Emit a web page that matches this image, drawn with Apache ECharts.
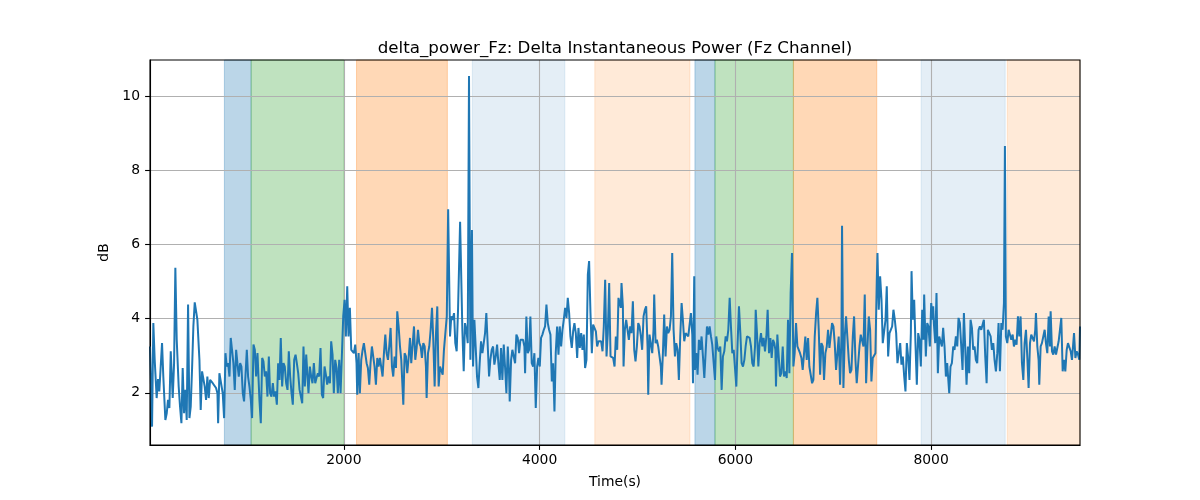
<!DOCTYPE html>
<html>
<head>
<meta charset="utf-8">
<script src="https://cdn.jsdelivr.net/npm/echarts@6/dist/echarts.min.js"></script>
<style>
html,body{margin:0;padding:0;background:#fff;}
#chart{width:1200px;height:500px;}
</style>
</head>
<body>
<div id="chart"></div>
<script>
// ---- data ----
const timeS = [
20,41,54,68,88,102,115,129,143,156,177,191,204,218,232,252,266,279,293,313,327,341,354,368,382,395,409,423,436,450,463,477,491,504,525,538,552,566,579,593,606,620,634,647,661,675,695,709,716,729,743,763,777,791,804,818,832,845,859,872,886,900,913,927,941,954,968,981,995,1009,1022,1036,1050,1063,1077,1091,1104,1118,1138,1152,1166,1179,1193,1206,1220,1234,1247,1261,1275,1288,1302,1316,1329,1343,1356,1370,1384,1397,1411,1425,1438,1452,1466,1479,1493,1507,1520,1534,1548,1561,1575,1588,1602,1616,
1626,1639,1653,1667,1680,1694,1708,1721,1735,1748,1762,1776,1789,1803,1817,1830,1844,1858,1871,1885,1898,1912,1926,1939,1953,1967,1980,1994,2008,2021,2035,2048,2062,2076,2089,2103,2117,2130,2137,2151,2164,2178,2192,2205,2219,2233,2246,2260,2273,2287,2301,2314,2328,2342,2355,2369,2383,2396,2410,2424,2437,2451,2464,2478,2492,2505,2519,2533,2546,2560,2574,2587,2601,2608,2621,2635,2648,2662,2676,2689,2703,2717,2730,2744,2758,2771,2785,2798,2812,2826,2839,2846,2860,2873,2887,2901,2914,2928,2942,2955,2969,2983,2996,3010,3023,3037,3052,3066,3085,3098,3112,3126,3139,3153,3167,
3188,3211,3225,3238,3252,3266,3279,3293,3309,3320,3334,3347,3361,3375,3388,3402,3416,3429,3443,3456,3470,3484,3497,3511,3525,3538,3552,3566,3579,3593,3606,3620,3634,3647,3661,3675,3688,3695,3709,3722,3736,3750,3763,3777,3791,3804,3818,3831,3845,3852,3865,3879,3893,3906,3920,3934,3947,3961,3975,3988,4002,4015,4029,4043,4056,4070,4084,4097,4111,4125,4138,4152,4165,4179,4193,4206,4220,4234,4247,4261,4275,4288,4302,4315,4329,4343,4356,4370,4384,4397,4411,4425,4438,4452,4465,4479,4493,4506,4520,4534,4547,4561,4575,4588,4602,4616,4629,4643,4656,4670,4684,4697,4711,4725,4738,4752,4766,4779,4793,4806,
4817,4830,4837,4851,4858,4871,4885,4898,4912,4926,4939,4953,4967,4980,4994,5008,5021,5035,5048,5062,5076,5089,5103,5110,5123,5137,5151,5164,5171,5185,5198,5212,5226,5239,5246,5260,5273,5287,5301,5314,5328,5342,5355,5369,5383,5396,5410,5423,5437,5451,5464,5478,5492,5505,5519,5533,5546,5560,5567,5580,5587,5601,5614,5628,5642,5655,5669,5683,5696,5710,5724,5737,5751,5764,5778,5792,5805,5819,5833,5846,5860,5873,5887,5901,5914,5928,5942,5955,5969,5983,5996,6010,6023,6037,6051,6064,6078,6092,6105,6119,6133,6146,6160,6173,6187,6201,6208,6221,6235,6248,6262,6276,6289,6303,6317,6330,6344,6358,6371,6385,6398,
6409,6415,6429,6443,6456,6470,6484,6497,6511,6525,6538,6552,6565,6579,6593,6606,6620,6634,6647,6661,6675,6688,6702,6715,6729,6743,6756,6770,6784,6797,6811,6825,6838,6852,6866,6879,6893,6906,6920,6934,6947,6961,6975,6988,7002,7015,7029,7043,7056,7070,7084,7090,7104,7118,7131,7145,7159,7172,7186,7200,7213,7227,7240,7254,7268,7281,7295,7309,7322,7336,7350,7363,7377,7390,7404,7418,7431,7445,7452,7465,7479,7493,7506,7520,7534,7547,7561,7575,7588,7602,7615,7629,7643,7656,7670,7684,7697,7711,7725,7738,7752,7765,7779,7793,7800,7813,7827,7840,7854,7868,7881,7895,7909,7922,7929,
7946,7960,7973,7987,8001,8014,8021,8028,8042,8055,8069,8083,8096,8110,8123,8137,8151,8164,8178,8185,8198,8212,8226,8239,8253,8267,8280,8294,8308,8321,8335,8348,8362,8376,8389,8403,8417,8430,8444,8457,8471,8485,8498,8512,8526,8539,8553,8567,8580,8594,8608,8621,8635,8648,8662,8676,8689,8703,8717,8730,8744,8754,8764,8778,8792,8805,8819,8833,8846,8860,8873,8887,8901,8914,8928,8942,8955,8969,8983,8996,9010,9023,9037,9051,9064,9071,9085,9098,9105,9119,9132,9146,9160,9173,9187,9201,9214,9221,9235,9248,9262,9276,9289,9303,9317,9330,9344,9357,9371,9385,9398,9412,9426,9439,9453,9460,9474,9487,9501,9514,9521
];
const deltaDb = [
3.25,1.09,3.88,2.89,1.86,2.37,2.04,2.08,3.34,2.44,1.27,1.45,1.81,1.59,3.12,1.86,2.80,5.37,3.43,2.17,1.63,1.18,2.67,1.45,2.08,1.27,4.38,1.32,1.63,2.67,3.79,4.44,4.49,3.97,2.89,1.54,2.58,2.58,2.17,1.81,2.44,1.86,2.35,2.35,2.26,2.26,2.13,1.99,1.18,2.53,2.51,1.99,1.32,3.07,2.71,2.80,2.44,3.48,3.43,2.80,2.08,3.16,2.80,2.44,2.80,2.71,1.99,1.77,2.44,3.16,2.44,2.17,1.81,1.32,3.30,3.16,2.44,3.07,1.81,1.18,2.94,2.85,2.44,2.58,1.90,2.98,1.99,1.90,2.26,1.90,2.04,1.68,2.80,2.35,3.48,2.17,2.80,2.71,2.26,2.08,3.12,2.44,1.99,1.68,2.89,3.03,2.80,2.53,2.08,2.04,1.72,3.25,2.17,3.03,
2.98,1.99,2.71,2.44,2.26,2.80,2.26,2.40,2.53,2.44,3.21,1.95,1.86,2.71,2.49,2.22,2.44,2.26,3.39,3.03,1.99,2.89,2.67,1.99,2.89,1.99,1.99,4.06,4.51,3.52,4.87,3.52,4.29,3.16,3.12,3.07,3.30,2.80,1.95,3.07,1.99,2.89,3.16,3.34,3.39,2.80,2.67,2.22,2.80,3.25,3.30,2.71,2.22,2.94,2.71,2.94,2.89,2.44,3.07,3.57,3.07,2.89,3.25,3.75,2.71,2.44,2.98,2.67,4.20,3.79,3.25,2.89,2.08,1.68,3.07,2.98,2.53,2.94,3.48,2.80,2.76,3.79,2.89,3.21,3.70,3.34,3.25,2.94,3.34,3.25,2.71,1.86,3.07,3.25,3.70,4.29,3.43,2.17,3.61,4.33,2.17,2.71,2.76,2.49,3.16,3.21,4.06,6.95,3.52,4.06,3.97,4.15,3.34,3.12,4.24,
6.61,3.70,2.58,3.88,3.70,3.34,10.54,2.89,6.39,2.71,3.97,3.25,2.44,2.13,2.80,3.39,3.07,3.07,3.61,4.15,4.20,2.44,2.89,3.16,3.25,2.76,2.98,3.30,2.80,2.35,3.21,2.35,3.30,2.71,1.99,3.25,2.53,1.77,2.89,3.16,3.12,2.80,3.57,3.48,3.07,3.43,3.43,3.43,3.25,2.53,4.06,3.07,3.16,4.06,2.80,2.71,3.07,1.59,2.71,2.94,2.71,3.48,3.57,3.70,3.79,4.38,3.88,3.70,3.57,2.31,2.80,1.50,3.07,3.79,3.03,3.79,3.25,3.70,3.97,4.29,4.02,4.56,4.15,3.52,3.21,3.66,3.88,3.61,2.94,3.75,3.21,3.61,3.16,3.57,2.67,2.89,5.19,5.55,4.15,3.07,3.84,3.79,3.66,3.25,3.39,3.34,3.39,3.12,3.79,5.05,2.98,3.61,4.96,2.98,2.98,2.94,2.71,3.52,3.16,4.56,
4.56,4.29,4.96,4.33,2.71,3.70,3.97,4.02,3.43,3.79,3.61,4.47,3.16,2.85,3.25,3.88,3.79,3.52,3.16,4.06,4.24,4.33,3.25,1.95,3.57,3.52,3.07,3.70,4.65,3.34,3.43,3.25,3.25,2.71,2.22,3.07,4.11,2.98,3.79,3.61,3.70,4.06,5.77,3.70,2.98,3.34,3.16,2.35,3.52,4.42,3.97,3.39,3.61,3.57,3.52,3.52,4.15,3.57,2.26,5.14,2.62,3.07,2.49,3.43,3.16,3.52,2.98,2.40,3.07,3.79,3.57,3.79,3.52,3.30,3.25,2.35,3.52,3.21,3.12,3.25,2.08,2.98,3.12,3.52,3.39,3.70,4.56,3.79,3.07,3.16,3.16,2.17,3.34,4.33,3.61,2.80,2.71,2.89,3.25,3.52,3.57,3.48,3.25,2.80,2.71,3.25,4.24,3.61,2.71,3.34,3.61,3.25,3.48,3.12,3.52,4.24,3.07,3.48,2.94,3.43,3.34,
3.16,2.17,3.57,3.52,2.44,2.53,3.25,2.44,2.58,2.40,3.97,2.53,4.69,5.77,2.71,3.07,3.88,3.25,3.21,3.07,2.94,2.62,3.07,3.52,2.89,3.48,2.71,2.67,2.26,2.35,3.52,4.15,4.56,3.70,2.49,3.34,3.25,2.35,3.07,3.25,3.70,3.21,3.16,3.88,3.79,3.34,2.62,2.58,3.52,2.22,3.52,6.50,2.13,3.52,4.06,4.11,2.89,2.53,2.62,3.52,4.06,2.89,2.26,2.22,3.25,3.57,3.52,3.25,4.65,2.26,3.25,4.06,3.70,2.31,2.94,2.89,3.07,5.05,5.77,4.24,5.14,4.51,3.34,3.30,3.97,4.87,2.98,3.61,3.70,3.79,4.24,3.97,3.61,2.80,2.80,3.34,2.76,2.98,2.44,2.04,3.34,2.98,2.35,3.61,5.28,3.97,4.51,3.34,2.22,3.61,3.43,2.71,4.24,3.43,4.65,
2.98,3.88,3.79,3.25,4.42,3.97,4.33,3.88,3.34,4.69,2.53,3.52,3.48,3.25,3.75,3.25,2.44,2.80,2.76,1.99,2.71,2.80,3.25,3.16,3.52,3.25,4.02,3.88,3.25,2.62,4.15,3.25,2.22,3.25,2.53,3.97,3.75,3.16,3.25,2.89,2.80,3.70,3.79,3.70,3.70,3.97,2.98,2.26,3.70,3.61,3.52,3.16,3.34,2.89,2.58,3.07,3.88,2.58,3.88,3.70,4.42,8.65,3.52,3.34,3.70,3.66,3.43,3.57,3.25,3.43,3.30,4.06,3.52,4.06,2.80,2.35,3.34,3.70,2.94,2.13,3.34,3.57,3.52,3.39,3.70,4.15,3.25,2.89,2.22,3.25,3.34,3.52,3.70,3.34,3.07,4.06,3.25,4.20,3.12,3.03,3.25,3.03,3.21,3.39,3.43,4.02,2.58,2.89,2.58,3.16,3.34,3.30,3.12,2.89,2.89,3.61,2.94,3.12,3.03,2.89,3.79
];
// shaded intervals (time, s)
const spanStart = [780, 1053, 2130, 3313, 4564, 5587, 5792, 6593, 7898, 8778];
const spanEnd   = [1053, 2000, 3058, 4258, 5536, 5792, 6593, 7445, 8757, 9521];
const spanKind  = ['A', 'B', 'C', 'D', 'E', 'A', 'B', 'C', 'D', 'E'];
const xTicks = [2000, 4000, 6000, 8000];
const yTicks = [2, 4, 6, 8, 10];

// ---- styles ----
const kindColor = {
  A: 'rgba(31,119,180,0.3)',
  B: 'rgba(44,160,44,0.3)',
  C: 'rgba(255,127,14,0.3)',
  D: 'rgba(31,119,180,0.12)',
  E: 'rgba(255,127,14,0.16)'
};
const FONT = 'DejaVu Sans';

const lineData = timeS.map((t, i) => [t, deltaDb[i]]);
const areas = spanStart.map((s, i) => [
  {xAxis: s, itemStyle: {color: kindColor[spanKind[i]], borderColor: kindColor[spanKind[i]], borderWidth: 1}},
  {xAxis: spanEnd[i]}
]);

const chart = echarts.init(document.getElementById('chart'), null, {renderer: 'canvas'});
chart.setOption({
  animation: false,
  backgroundColor: '#ffffff',
  title: {
    text: 'delta_power_Fz: Delta Instantaneous Power (Fz Channel)',
    left: 610, top: 35, textAlign: 'center',
    textStyle: {fontFamily: FONT, fontSize: 16.7, fontWeight: 'normal', color: '#000'}
  },
  grid: {left: 150, right: 120, top: 60, bottom: 55, show: true, borderColor: '#000', borderWidth: 1.1, backgroundColor: 'transparent', z: 3},
  xAxis: {
    type: 'value', min: 20, max: 9521, z: 1.5,
    name: 'Time(s)', nameLocation: 'middle', nameGap: 30,
    nameTextStyle: {fontFamily: FONT, fontSize: 13.9, color: '#000'},
    axisLine: {show: true, onZero: false, lineStyle: {color: '#000', width: 1.1}},
    axisTick: {show: true, length: 4.9, lineStyle: {color: '#000', width: 1.1}, customValues: xTicks},
    axisLabel: {fontFamily: FONT, fontSize: 13.9, color: '#000', margin: 8, customValues: xTicks, formatter: v => String(v)},
    splitLine: {show: true, lineStyle: {color: '#b0b0b0', width: 1.1}}
  },
  yAxis: {
    type: 'value', min: 0.595, max: 10.97, z: 1.5,
    name: 'dB', nameLocation: 'middle', nameGap: 39, nameRotate: 90, nameMoveOverlap: false,
    nameTextStyle: {fontFamily: FONT, fontSize: 13.9, color: '#000'},
    axisLine: {show: true, lineStyle: {color: '#000', width: 1.1}},
    axisTick: {show: true, length: 4.9, lineStyle: {color: '#000', width: 1.1}, customValues: yTicks},
    axisLabel: {fontFamily: FONT, fontSize: 13.9, color: '#000', margin: 10, customValues: yTicks, formatter: v => String(v)},
    splitLine: {show: true, lineStyle: {color: '#b0b0b0', width: 1.1}}
  },
  series: [
    {
      type: 'line', data: [], z: 1, silent: true,
      markArea: {silent: true, data: areas}
    },
    {
      type: 'line', data: lineData, z: 2, showSymbol: false, sampling: null,
      lineStyle: {color: '#1f77b4', width: 2.0},
      itemStyle: {color: '#1f77b4'}
    }
  ]
});
</script>
</body>
</html>
